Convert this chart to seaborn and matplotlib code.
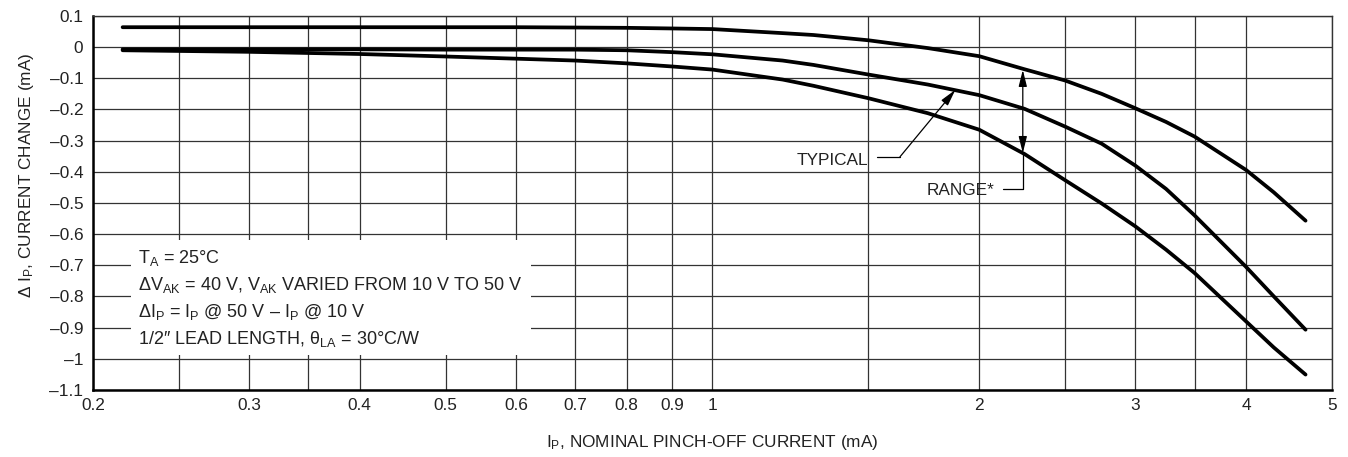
import matplotlib
matplotlib.use("Agg")
import matplotlib.pyplot as plt
import seaborn as sns
import pandas as pd
from matplotlib.ticker import FixedLocator, FixedFormatter, NullFormatter
from matplotlib.patches import Rectangle

# valeurs (mA)
ip_nominal = [0.216, 0.3, 0.4, 0.5, 0.6, 0.7, 0.8, 0.9, 1.0, 1.2, 1.3, 1.5, 1.75,
              2.0, 2.25, 2.5, 2.75, 3.0, 3.25, 3.5, 4.0, 4.3, 4.67]
delta_upper = [0.064, 0.064, 0.064, 0.064, 0.064, 0.063, 0.062, 0.060, 0.058, 0.045, 0.039, 0.022, -0.003,
               -0.029, -0.071, -0.107, -0.15, -0.196, -0.24, -0.287, -0.394, -0.466, -0.557]
delta_typical = [-0.007, -0.007, -0.007, -0.008, -0.008, -0.008, -0.010, -0.016, -0.023, -0.043, -0.057, -0.088, -0.12,
                 -0.154, -0.198, -0.255, -0.31, -0.38, -0.455, -0.54, -0.705, -0.80, -0.907]
delta_lower = [-0.01, -0.015, -0.022, -0.03, -0.037, -0.043, -0.052, -0.062, -0.072, -0.104, -0.124, -0.164, -0.212,
               -0.265, -0.343, -0.427, -0.502, -0.575, -0.65, -0.725, -0.88, -0.964, -1.051]

x_major = [0.2, 0.3, 0.4, 0.5, 0.6, 0.7, 0.8, 0.9, 1, 2, 3, 4, 5]
x_major_labels = ["0.2", "0.3", "0.4", "0.5", "0.6", "0.7", "0.8", "0.9", "1", "2", "3", "4", "5"]
x_minor = [0.25, 0.35, 1.5, 2.5, 3.5]
y_ticks = [0.1, 0.0, -0.1, -0.2, -0.3, -0.4, -0.5, -0.6, -0.7, -0.8, -0.9, -1.0, -1.1]
y_tick_labels = ["0.1", "0", "–0.1", "–0.2", "–0.3", "–0.4", "–0.5", "–0.6",
                 "–0.7", "–0.8", "–0.9", "–1", "–1.1"]

conditions = [
    r"$\mathregular{T_A}$ = 25°C",
    r"Δ$\mathregular{V_{AK}}$ = 40 V, $\mathregular{V_{AK}}$ VARIED FROM 10 V TO 50 V",
    r"Δ$\mathregular{I_P}$ = $\mathregular{I_P}$ @ 50 V – $\mathregular{I_P}$ @ 10 V",
    r"1/2″ LEAD LENGTH, $\mathregular{θ_{LA}}$ = 30°C/W",
]

n = len(ip_nominal)
df = pd.DataFrame({
    "ip": ip_nominal * 3,
    "delta": delta_upper + delta_typical + delta_lower,
    "courbe": ["haut"] * n + ["typique"] * n + ["bas"] * n,
})

sns.set_style("white")
plt.rcParams["font.family"] = ["Liberation Sans", "DejaVu Sans"]
plt.rcParams["mathtext.fontset"] = "custom"
plt.rcParams["mathtext.rm"] = "Liberation Sans"
plt.rcParams["mathtext.it"] = "Liberation Sans:italic"

fs = 12.4
fig, ax = plt.subplots(figsize=(13.48, 4.57), dpi=100)
fig.subplots_adjust(left=0.069, right=0.988, top=0.965, bottom=0.147)
ax.set_xscale("log")
ax.set_axisbelow(True)

sns.lineplot(data=df, x="ip", y="delta", hue="courbe",
             palette={"haut": "black", "typique": "black", "bas": "black"},
             legend=False, lw=2.7, solid_capstyle="round", solid_joinstyle="round",
             estimator=None, ax=ax)

ax.set_xlim(0.2, 5)
ax.set_ylim(-1.1, 0.1)
ax.xaxis.set_major_locator(FixedLocator(x_major))
ax.xaxis.set_major_formatter(FixedFormatter(x_major_labels))
ax.xaxis.set_minor_locator(FixedLocator(x_minor))
ax.xaxis.set_minor_formatter(NullFormatter())
ax.set_yticks(y_ticks)
ax.set_yticklabels(y_tick_labels)
ax.tick_params(which="both", length=0, labelsize=fs, colors="#222222")
ax.tick_params(axis="x", pad=6)
ax.tick_params(axis="y", pad=7)
ax.grid(which="both", color="#333333", lw=0.9)

for side in ["left", "bottom"]:
    ax.spines[side].set_linewidth(1.8)
    ax.spines[side].set_color("black")
for side in ["top", "right"]:
    ax.spines[side].set_linewidth(1.0)
    ax.spines[side].set_color("#333333")

ax.set_xlabel(r"$\mathregular{I_P}$, NOMINAL PINCH-OFF CURRENT (mA)", fontsize=fs, color="#222222")
ax.xaxis.set_label_coords(0.5, -0.116)
ax.set_ylabel(r"Δ $\mathregular{I_P}$, CURRENT CHANGE (mA)", fontsize=fs, color="#222222")
ax.yaxis.set_label_coords(-0.046, 0.575)

# cadre blanc pour les conditions de test
ax.add_patch(Rectangle((0.0307, 0.0936), 0.3228, 0.3074, transform=ax.transAxes,
                       facecolor="white", edgecolor="none", zorder=1.5))
for i, line in enumerate(conditions):
    ax.text(0.2248, -0.694 - 0.086 * i, line, ha="left", va="baseline",
            fontsize=13, color="#222222", zorder=3)

# annotation TYPICAL
ax.text(1.497, -0.378, "TYPICAL", ha="right", va="baseline", fontsize=fs, color="#222222")
ax.plot([1.533, 1.628], [-0.352, -0.352], color="black", lw=0.9)
ax.annotate("", xy=(1.88, -0.137), xytext=(1.628, -0.352),
            arrowprops=dict(arrowstyle="-|>,head_length=1.0,head_width=0.25",
                            color="black", lw=0.9, shrinkA=0, shrinkB=0))

# annotation RANGE*
ax.text(2.08, -0.476, "RANGE*", ha="right", va="baseline", fontsize=fs, color="#222222")
ax.plot([2.127, 2.24, 2.24], [-0.455, -0.455, -0.34], color="black", lw=0.9)
ax.annotate("", xy=(2.24, -0.073), xytext=(2.24, -0.34),
            arrowprops=dict(arrowstyle="<|-|>,head_length=1.0,head_width=0.25",
                            color="black", lw=0.9, shrinkA=0, shrinkB=0))

fig.savefig("out.png", dpi=100)
plt.close(fig)
